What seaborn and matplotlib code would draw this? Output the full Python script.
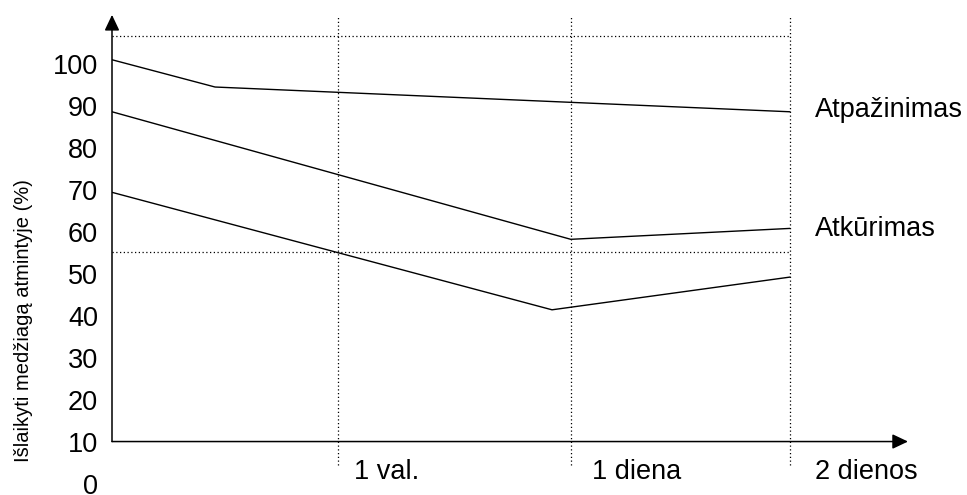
import numpy as np
import pandas as pd
import matplotlib
matplotlib.use("Agg")
import matplotlib.pyplot as plt
import seaborn as sns

# --- data ---
recog_x = [0.0, 0.456, 3.0]
recog_y = [101.0, 94.5, 88.6]

recall_x = [0.0, 2.03, 3.0]
recall_y = [88.6, 58.2, 60.8]

low_x = [0.0, 1.947, 3.0]
low_y = [69.4, 41.4, 49.2]

time_pos = [1.0, 2.03, 3.0]
time_labels = ["1 val.", "1 diena", "2 dienos"]
time_label_x = [1.071, 2.124, 3.11]

series_names = ["Atpažinimas", "Atkūrimas"]
series_label_y = [89.1, 60.6]

guide_levels = [106.7, 55.1]
y_ticks = list(range(0, 101, 10))
y_title = "Išlaikyti medžiagą atmintyje (%)"

sns.set_style("white")
plt.rcParams['font.family'] = ['Liberation Sans', 'DejaVu Sans']
plt.rcParams['text.color'] = 'black'
plt.rcParams['ytick.color'] = 'black'
plt.rcParams['ytick.labelcolor'] = 'black'

fig = plt.figure(figsize=(9.67, 4.95), dpi=100)
ax = fig.add_axes([112 / 967, (495 - 483.5) / 495, (908 - 112) / 967, (483.5 - 13.6) / 495])
ax.set_xlim(0, (908 - 112) / 226)
ax.set_ylim(0, 112)

# dotted guides
for lvl in guide_levels:
    ax.plot([0, time_pos[-1]], [lvl, lvl], color='black', lw=0.9,
            linestyle=(0, (1, 2)), zorder=1)
for xp in time_pos:
    ax.plot([xp, xp], [4.3, 111.5], color='black', lw=0.9,
            linestyle=(0, (1, 2)), zorder=1, clip_on=False)

# curves
for xs, ys in [(recog_x, recog_y), (recall_x, recall_y), (low_x, low_y)]:
    d = pd.DataFrame({'x': xs, 'y': ys})
    sns.lineplot(data=d, x='x', y='y', ax=ax, color='black', lw=1.0,
                 sort=False, estimator=None, zorder=3)

# axes with arrow heads
arrow = dict(arrowstyle='-|>,head_length=0.95,head_width=0.45', mutation_scale=10,
             color='black', lw=1.1, shrinkA=0, shrinkB=0)
ax.annotate('', xy=(0, 111.7), xytext=(0, 10), arrowprops=arrow, annotation_clip=False)
ax.annotate('', xy=((908 - 112) / 226, 10), xytext=(0, 10), arrowprops=arrow,
            annotation_clip=False)

for s in ax.spines.values():
    s.set_visible(False)

ax.set_yticks(y_ticks)
ax.set_yticklabels([str(v) for v in y_ticks])
ax.tick_params(axis='y', length=0, pad=10, labelsize=19.5, labelcolor='black')
ax.set_xticks([])
ax.set_xlabel('')
ax.set_ylabel('')

for xl, lab in zip(time_label_x, time_labels):
    ax.text(xl, 2.8, lab, fontsize=19.5, ha='left', va='center', color='black')

for name, yv in zip(series_names, series_label_y):
    ax.text(3.11, yv, name, fontsize=19.5, ha='left', va='center', color='black')

fig.text(24 / 967, (495 - 321) / 495, y_title, rotation=90, ha='center', va='center',
         fontsize=14.5, color='black')

fig.savefig("out.png", dpi=100)
